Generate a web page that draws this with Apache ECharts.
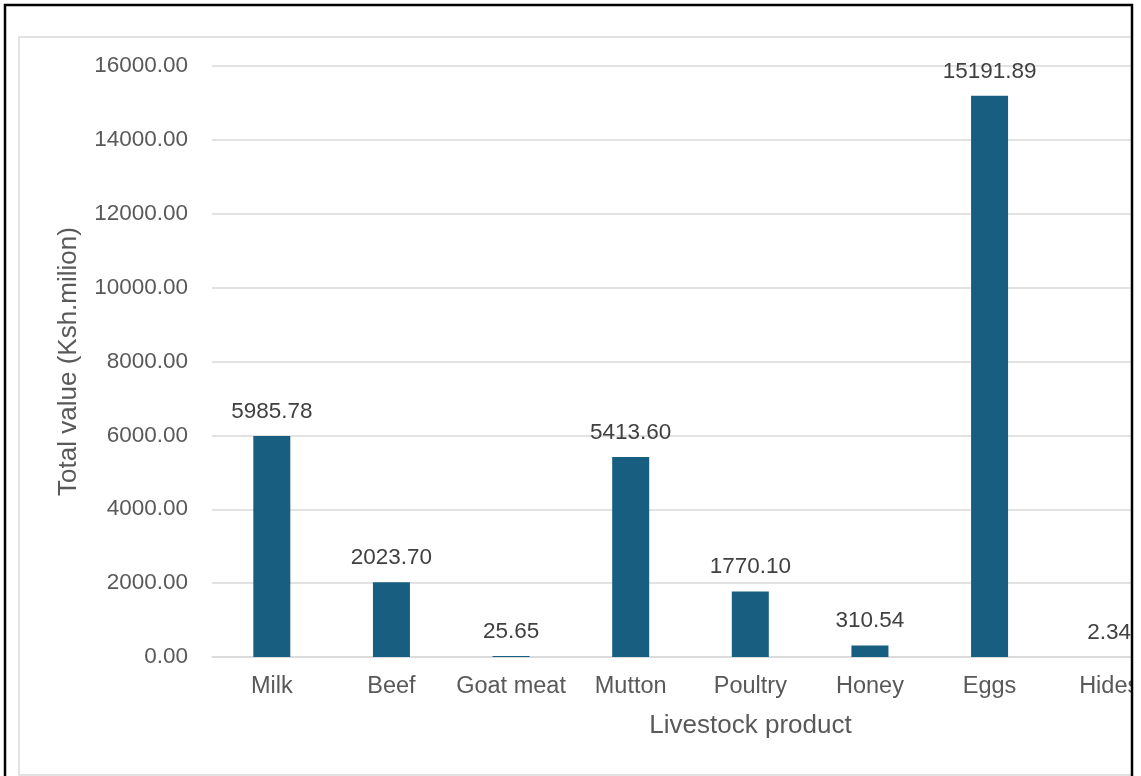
<!DOCTYPE html>
<html><head><meta charset="utf-8">
<script src="https://cdn.jsdelivr.net/npm/echarts@6/dist/echarts.min.js"></script>
<style>html,body{margin:0;padding:0;background:#fff}#c{width:1141px;height:776px}</style>
</head><body><div id="c"></div>
<script>
const categories = ["Milk","Beef","Goat meat","Mutton","Poultry","Honey","Eggs","Hides"];
const values = [5985.78, 2023.70, 25.65, 5413.60, 1770.10, 310.54, 15191.89, 2.34];
const yTicks = {min: 0, max: 16000, interval: 2000};
const xName = "Livestock product";
const yName = "Total value (Ksh.milion)";

const font = "Liberation Sans, Arial, sans-serif";
const txt = "#595959";
const chart = echarts.init(document.getElementById('c'));
chart.setOption({
  animation: false,
  grid: {left: 212, top: 66, width: 957, height: 591, containLabel: false, outerBoundsMode: 'none'},
  xAxis: {
    type: 'category', data: categories,
    name: xName, nameLocation: 'middle', nameGap: 56,
    nameTextStyle: {color: txt, fontSize: 26, fontFamily: font, padding: [0, 0, 0, 120]},
    axisLine: {lineStyle: {color: '#d9d9d9', width: 1.5}},
    axisTick: {show: false},
    axisLabel: {color: txt, fontSize: 23.5, fontFamily: font, margin: 18, interval: 0}
  },
  yAxis: {
    type: 'value', min: yTicks.min, max: yTicks.max, interval: yTicks.interval,
    name: yName, nameLocation: 'middle', nameGap: 130, nameRotate: 90,
    nameTextStyle: {color: txt, fontSize: 26, fontFamily: font},
    axisLine: {show: false}, axisTick: {show: false},
    axisLabel: {color: txt, fontSize: 22.5, fontFamily: font, margin: 24,
      formatter: v => v.toFixed(2)},
    splitLine: {lineStyle: {color: '#d9d9d9', width: 1.5}}
  },
  series: [{
    type: 'bar', data: values, barWidth: 37,
    itemStyle: {color: '#175E81'},
    label: {show: true, position: 'top', distance: 13, color: '#404040',
      fontSize: 22.5, fontFamily: font, formatter: p => p.value.toFixed(2)}
  }],
  graphic: [
    {type: 'rect', z: 100, shape: {x: 19, y: 37, width: 1200, height: 738},
      style: {fill: 'none', stroke: '#d9d9d9', lineWidth: 1.5}},
    {type: 'rect', z: 101, shape: {x: 1133, y: 0, width: 20, height: 776},
      style: {fill: '#fff'}},
    {type: 'rect', z: 102, shape: {x: 5, y: 5, width: 1127, height: 800},
      style: {fill: 'none', stroke: '#000', lineWidth: 2.5}}
  ]
});
</script></body></html>
